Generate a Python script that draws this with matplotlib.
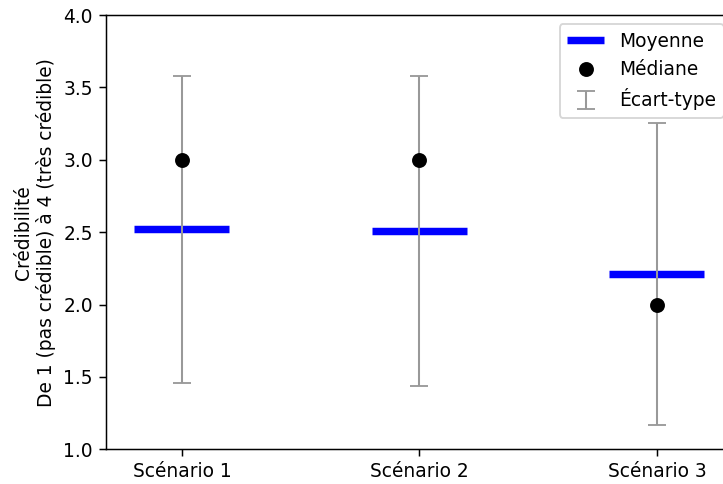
import matplotlib
matplotlib.use("Agg")
import matplotlib.pyplot as plt
import numpy as np

# Crédibilité perçue par scénario
scenarios = ["Scénario 1", "Scénario 2", "Scénario 3"]
moyennes = [2.52, 2.51, 2.21]
medianes = [3.0, 3.0, 2.0]
ecarts_types = [1.06, 1.07, 1.045]

x = np.arange(len(scenarios))

fig = plt.figure(figsize=(723 / 134, 484 / 134), dpi=134)
ax = fig.add_axes([0.1466, 0.0717, 0.8672, 0.8973])

h_moy = ax.hlines(moyennes, x - 0.2, x + 0.2, colors="blue", linewidth=4,
                  label="Moyenne")
h_et = ax.errorbar(x, moyennes, yerr=ecarts_types, fmt="none", ecolor="#999999",
                   elinewidth=1.1, capsize=5, label="Écart-type")
h_med, = ax.plot(x, medianes, "o", color="black", markersize=7,
                 linestyle="none", label="Médiane")

ax.set_xticks(x)
ax.set_xticklabels(scenarios)
ax.set_ylim(1.0, 4.0)
ax.set_yticks(np.arange(1.0, 4.01, 0.5))
ax.set_xlim(-0.32, 2.32)
ax.set_ylabel("Crédibilité\nDe 1 (pas crédible) à 4 (très crédible)")

ax.legend(handles=[h_moy, h_med, h_et],
          labels=["Moyenne", "Médiane", "Écart-type"],
          loc="upper right")

fig.savefig("out.png", dpi=134)
